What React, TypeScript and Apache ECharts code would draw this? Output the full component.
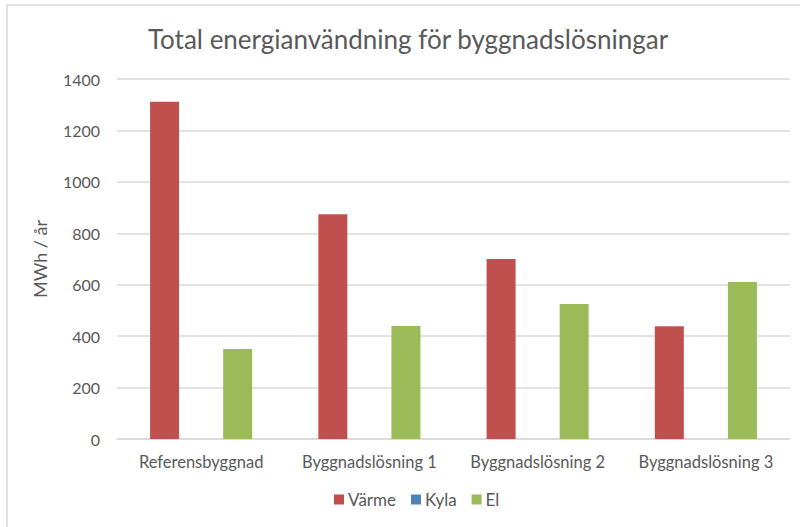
import React, { useEffect, useRef } from "react";
import * as echarts from "echarts";

const categories = ["Referensbyggnad", "Byggnadslösning 1", "Byggnadslösning 2", "Byggnadslösning 3"];
const varme = [1312, 874, 700, 438];
const kyla = [0, 0, 0, 0];
const el = [350, 439, 525, 611];
const yTicks = { min: 0, max: 1400, interval: 200 };

const FONT = "Lato, 'Open Sans', sans-serif";
const TXT = "#595959";

export default function App() {
  const ref = useRef<HTMLDivElement>(null);
  useEffect(() => {
    const chart = echarts.init(ref.current!, undefined, { renderer: "svg" });
    chart.setOption({
      animation: false,
      backgroundColor: "#ffffff",
      textStyle: { fontFamily: FONT },
      title: {
        text: "Total energianvändning för byggnadslösningar",
        left: 403,
        textAlign: "center",
        top: 21,
        textStyle: { fontFamily: FONT, fontSize: 26, fontWeight: "normal", color: TXT },
      },
      graphic: [
        {
          type: "rect",
          shape: { x: 7, y: 5, width: 820, height: 560 },
          style: { fill: "none", stroke: "#d9d9d9", lineWidth: 1.5 },
          silent: true,
        },
      ],
      legend: {
        data: ["Värme", "Kyla", "El"],
        bottom: 14,
        left: 329,
        icon: "rect",
        itemWidth: 10,
        itemHeight: 10,
        itemGap: 15,
        textStyle: { fontFamily: FONT, fontSize: 17, color: TXT, padding: [0, 0, 0, -1] },
      },
      grid: { left: 117, right: 10, top: 79, bottom: 88, containLabel: false },
      xAxis: {
        type: "category",
        data: categories,
        axisLine: { show: true, lineStyle: { color: "#d9d9d9", width: 1.5 } },
        axisTick: { show: false },
        axisLabel: { fontFamily: FONT, fontSize: 16.5, color: TXT, margin: 14, interval: 0 },
      },
      yAxis: {
        type: "value",
        min: yTicks.min,
        max: yTicks.max,
        interval: yTicks.interval,
        name: "MWh / år",
        nameLocation: "middle",
        nameGap: 68,
        nameRotate: 90,
        nameTextStyle: { fontFamily: FONT, fontSize: 18, color: TXT },
        axisLine: { show: false },
        axisTick: { show: false },
        axisLabel: { fontFamily: FONT, fontSize: 16, color: TXT, margin: 17, formatter: (v: number) => String(v) },
        splitLine: { lineStyle: { color: "#d9d9d9", width: 1.5 } },
      },
      series: [
        { name: "Värme", type: "bar", data: varme, barWidth: 29, barGap: "26%", itemStyle: { color: "#C0504D" } },
        { name: "Kyla", type: "bar", data: kyla, barWidth: 29, barGap: "26%", itemStyle: { color: "#4F81BD" } },
        { name: "El", type: "bar", data: el, barWidth: 29, barGap: "26%", itemStyle: { color: "#9BBB59" } },
      ],
    });
    return () => chart.dispose();
  }, []);
  return (
    <div
      ref={ref}
      style={{ position: "fixed", left: 0, top: 0, width: 800, height: 527 }}
    />
  );
}
